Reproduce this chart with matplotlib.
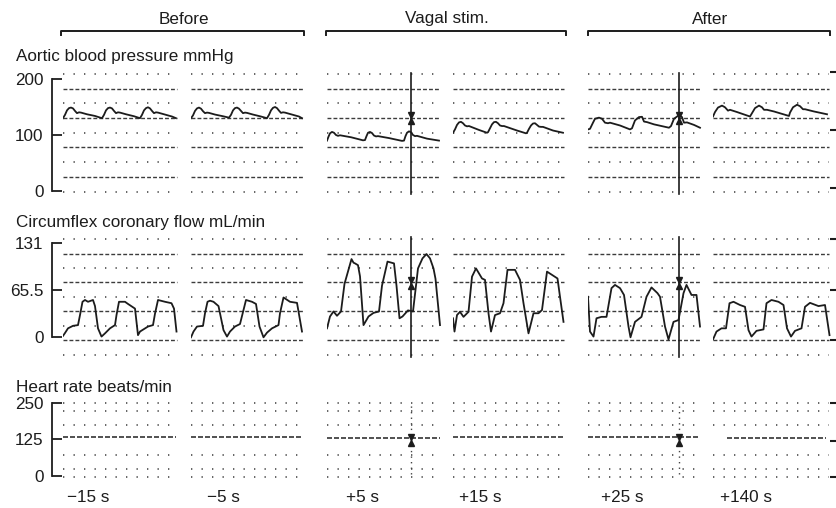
import matplotlib
matplotlib.use('Agg')
import matplotlib.pyplot as plt
from matplotlib.lines import Line2D
from matplotlib.transforms import offset_copy

plt.rcParams['font.family'] = ['Liberation Sans', 'DejaVu Sans']

phases = ['Before', 'Vagal stim.', 'After']
windows = ['\u221215 s', '\u22125 s', '+5 s', '+15 s', '+25 s', '+140 s']

# aortic blood pressure (mmHg), t = seconds from start of each window
bp_t = [
    [0, .02, .04, .06, .08, .10, .12, .14, .16, .18, .24, .32,
     .39, .41, .43, .45, .47, .49, .51, .53, .55, .57, .63, .71,
     .77, .79, .81, .83, .85, .87, .89, .91, .93, .95, 1.01, 1.09, 1.13],
    [0, .02, .04, .06, .08, .10, .12, .14, .16, .18, .24, .32,
     .38, .40, .42, .44, .46, .48, .50, .52, .54, .56, .62, .70,
     .76, .78, .80, .82, .84, .86, .88, .90, .92, .94, 1.00, 1.08, 1.11],
    [0, .015, .03, .05, .07, .09, .11, .13, .24, .36,
     .38, .395, .41, .43, .45, .47, .49, .51, .62, .75,
     .77, .785, .80, .82, .84, .86, .88, .90, 1.00, 1.12],
    [0, .02, .04, .06, .08, .10, .12, .14, .16, .26, .34,
     .35, .37, .39, .41, .43, .45, .47, .49, .51, .64, .73,
     .74, .76, .78, .80, .82, .84, .86, .88, .90, 1.00, 1.10],
    [0, .02, .05, .07, .11, .14, .17, .20, .22, .32, .42,
     .44, .47, .51, .54, .56, .59, .66, .81,
     .83, .86, .91, .94, .96, .99, 1.06, 1.12],
    [0, .02, .05, .09, .12, .15, .17, .24, .37,
     .39, .42, .46, .49, .51, .54, .61, .76,
     .77, .80, .84, .87, .90, .92, 1.01, 1.14],
]
bp_v = [
    [130, 136, 144, 148, 149, 147.5, 143, 139, 140.5, 140, 137, 134,
     130, 136, 144, 148, 149, 147.5, 143, 139, 140.5, 140, 137, 133.5,
     130, 136, 144, 148, 149.5, 147.5, 143, 139, 140.5, 140, 137, 133, 130],
    [130, 135, 143, 147.5, 149, 147, 142.5, 139, 140, 139.5, 136.5, 133.5,
     131, 136, 144, 148, 149, 147, 143, 139, 140, 139.5, 136.5, 133,
     130, 136, 144, 148.5, 150, 148, 143.5, 139.5, 140.5, 140, 137, 133, 130],
    [90, 97, 103, 105.5, 104, 100, 98.5, 99.5, 96, 90.5,
     91, 98, 104, 105.5, 103.5, 99, 97.5, 98, 94.5, 89.5,
     90, 98, 104, 106.5, 105, 100, 98, 98.5, 93.5, 90],
    [104, 110, 118, 122.5, 123.5, 121, 117, 115.5, 116, 109, 104,
     105, 112, 119, 123, 123.5, 121, 117, 116, 116, 108, 103,
     104, 111, 117, 120.5, 121, 118, 115, 114.5, 114.5, 108, 104],
    [110, 111, 122, 129, 131, 129, 122, 121, 122, 117, 110,
     112, 126, 132, 132.5, 124, 123, 119, 113,
     116, 129, 135.5, 132, 122, 122.5, 118, 113],
    [133, 141, 149, 152.5, 149.5, 143.5, 145, 141, 133,
     139, 148, 152.5, 149.5, 145, 145, 142, 134,
     140, 149.5, 154, 151.5, 146, 146, 142, 137],
]

# circumflex coronary flow (mL/min)
cf_t = [
    [0, .02, .05, .10, .15, .17, .195, .22, .25, .30, .32, .35, .385, .42, .47,
     .52, .535, .56, .62, .65, .72, .75, .77, .85, .90, .92, .95, 1.02, 1.085,
     1.11, 1.135],
    [0, .025, .06, .12, .14, .165, .19, .225, .275, .325, .36, .39, .44, .49,
     .525, .55, .61, .65, .685, .725, .76, .81, .875, .89, .925, .99, 1.06, 1.11],
    [0, .03, .065, .10, .14, .175, .245, .265, .28, .31, .33, .365,
     .415, .465, .52, .55, .605, .67, .695, .725,
     .755, .81, .86, .91, .955, .995, 1.03, 1.065, 1.085, 1.13],
    [0, .015, .04, .07, .105, .155, .19, .23, .29, .32, .355, .38,
     .42, .47, .505, .545, .62, .67, .705, .755,
     .805, .855, .89, .94, .99, 1.045, 1.07, 1.105],
    [0, .02, .055, .085, .135, .185, .235, .27, .32, .36, .405, .425,
     .47, .535, .585, .635, .695, .72, .77, .805,
     .855, .905, .955, .985, 1.035, 1.085, 1.12],
    [0, .035, .085, .13, .165, .205, .27, .32, .355, .385,
     .435, .505, .535, .585, .655, .705, .74, .78,
     .82, .885, .92, .97, 1.055, 1.12, 1.165],
]
cf_v = [
    [2, 6, 12.5, 16, 17, 31, 49.5, 52, 49.5, 52, 43.5, 12.5, 1, 5.5, 12.5,
     17, 31, 49.5, 49.5, 46.5, 40, 3, 8, 15, 17, 33, 52, 49.5, 47.5, 40, 8],
    [0, 8, 15, 16, 33.5, 49.5, 51, 49.5, 43.5, 10, 1, 8, 15, 18.5,
     38, 52, 49.5, 46.5, 15, 0, 6.5, 12.5, 17, 33.5, 55.5, 49.5, 48, 8],
    [12.5, 29, 36, 30, 36, 74.5, 109, 104, 103, 100.5, 85, 17,
     29, 34, 36, 72, 105.5, 103, 72, 26.5,
     29, 37.5, 36, 96, 110, 116, 110, 96, 81.5, 17],
    [26.5, 8, 31, 35.5, 28.5, 35.5, 84.5, 96, 82, 80, 33.5, 8,
     31, 33.5, 47.5, 94, 94, 80, 47.5, 5.5,
     33.5, 33.5, 38, 91.5, 87, 82, 56.5, 21.5],
    [56.5, 8, 1, 26.5, 28.5, 28.5, 68.5, 73, 68.5, 59, 15, 0,
     21.5, 28.5, 56.5, 69.5, 61.5, 56.5, 15, -3,
     21.5, 24, 61.5, 73, 59, 59, 15],
    [-3, 8, 12.5, 12.5, 47.5, 49.5, 45, 42.5, 10, 1,
     9, 11, 47.5, 52, 49.5, 45, 12.5, 1,
     9, 12.5, 42.5, 48, 43.5, 45, 3],
]

# heart rate (beats/min), flat trace per window
hr_start = [0, 0, 0, 0, 0, 0.14]
hr_end = [1.13, 1.11, 1.13, 1.11, 1.12, 1.13]
hr_v = [134, 132, 128, 133, 132, 131]

# stimulus event mark inside a window (s), None = no mark
stim_t = [None, None, 0.84, None, 0.91, None]

# ---- layout (pixels of the 837x508 picture)
W, H = 837, 508
seg_left = [63, 191, 327, 453, 588, 713]
seg_len = [1.14, 1.12, 1.13, 1.11, 1.12, 1.16]
SEG_W = 118
PX_PER_S = 100
INK = '#1c1c1c'

rows = [
    dict(title='Aortic blood pressure mmHg', title_y=57, zero=191, top_px=79,
         top_val=200, ticks=[0, 100, 200], labels=['0', '100', '200'],
         box=(70, 197), right=[5, 109, 212], stim_y=130,
         grid=[-1 + 26.25 * k for k in range(9)]),
    dict(title='Circumflex coronary flow mL/min', title_y=222, zero=337.3,
         top_px=243.3, top_val=131, ticks=[0, 65.5, 131],
         labels=['0', '65.5', '131'], box=(234, 360), right=[-4, 66, 137],
         stim_y=76, grid=[-24 + 20.1 * k for k in range(9)]),
    dict(title='Heart rate beats/min', title_y=387, zero=476, top_px=402.6,
         top_val=250, ticks=[0, 125, 250], labels=['0', '125', '250'],
         box=(398, 482), right=[-3, 119, 249], stim_y=123,
         grid=[-3, 24, 72, 174, 222, 249]),
]

fig = plt.figure(figsize=(W / 100, H / 100), dpi=100)


def fx(x):
    return x / W


def fy(y):
    return 1 - y / H


for r, row in enumerate(rows):
    top, bot = row['box']
    k = (row['zero'] - row['top_px']) / row['top_val']
    ylim = ((row['zero'] - bot) / k, (row['zero'] - top) / k)

    fig.text(fx(16), fy(row['title_y']), row['title'], fontsize=12.3,
             ha='left', va='center', color=INK)

    # left bracket scale
    sc = fig.add_axes([fx(52), fy(bot), 12 / W, (bot - top) / H])
    sc.set_ylim(ylim)
    sc.set_xlim(0, 1)
    for side in ['top', 'right', 'bottom']:
        sc.spines[side].set_visible(False)
    sc.patch.set_alpha(0)
    sc.spines['left'].set_bounds(0, row['top_val'])
    sc.spines['left'].set_linewidth(1.3)
    sc.spines['left'].set_color(INK)
    sc.set_xticks([])
    sc.set_yticks(row['ticks'])
    sc.set_yticklabels(row['labels'])
    sc.tick_params(axis='y', direction='in', length=7.5, width=1.3,
                   labelsize=12.3, pad=6, colors=INK)

    # short marks on the right edge
    rm = fig.add_axes([fx(830), fy(bot), 7 / W, (bot - top) / H])
    rm.set_ylim(ylim)
    rm.set_xlim(0, 1)
    rm.axis('off')
    rm.hlines(row['right'], 0, 1, colors=INK, lw=1.5)

    for i in range(6):
        ax = fig.add_axes([fx(seg_left[i]), fy(bot), SEG_W / W, (bot - top) / H])
        ax.set_xlim(0, SEG_W / PX_PER_S)
        ax.set_ylim(ylim)
        ax.axis('off')
        ax.patch.set_alpha(0)

        # chart paper rows
        for g, lev in enumerate(row['grid']):
            if r < 2 and g % 2 == 1:
                ax.hlines(lev, 0, seg_len[i], colors='#3c3c3c', lw=1.0,
                          linestyles=[(0, (2.8, 1.5))])
            else:
                ax.hlines(lev, 0, seg_len[i], colors='#4a4a4a', lw=1.2,
                          linestyles=[(0, (0.8, 5.5))])

        if r == 0:
            ax.plot(bp_t[i], bp_v[i], color=INK, lw=1.3, solid_joinstyle='round')
        elif r == 1:
            ax.plot(cf_t[i], cf_v[i], color=INK, lw=1.3, solid_joinstyle='round')
        else:
            ax.plot([hr_start[i], hr_end[i]], [hr_v[i], hr_v[i]], color='#333333',
                    lw=1.2, linestyle=(0, (3, 1.2)))

        if stim_t[i] is not None:
            if r < 2:
                ax.axvline(stim_t[i], color=INK, lw=1.2, ymin=0.02, ymax=0.98)
            else:
                ax.axvline(stim_t[i], color='#444444', lw=1.0, ymin=0.1, ymax=0.92,
                           linestyle=(0, (1, 3)))
            up = offset_copy(ax.transData, fig=fig, y=2.2, units='points')
            dn = offset_copy(ax.transData, fig=fig, y=-2.2, units='points')
            ax.plot([stim_t[i]], [row['stim_y']], marker='v', ms=4.5, color=INK,
                    transform=up)
            ax.plot([stim_t[i]], [row['stim_y']], marker='^', ms=4.5, color=INK,
                    transform=dn)

# phase brackets on top
brackets = [(61, 304), (326, 566), (588, 830)]
for (x0, x1), name in zip(brackets, phases):
    fig.add_artist(Line2D([fx(x0), fx(x0), fx(x1), fx(x1)],
                          [fy(35), fy(30.5), fy(30.5), fy(35)],
                          transform=fig.transFigure, color=INK, lw=1.4))
    fig.text(fx((x0 + x1) / 2 + 1), fy(19), name, fontsize=12.3,
             ha='center', va='center', color=INK)

# window labels under the heart rate row
label_x = [88, 223, 363, 480, 622, 746]
for x, lab in zip(label_x, windows):
    fig.text(fx(x), fy(497), lab, fontsize=12.3, ha='center', va='center',
             color=INK)

fig.savefig('out.png', dpi=100, facecolor='white')
